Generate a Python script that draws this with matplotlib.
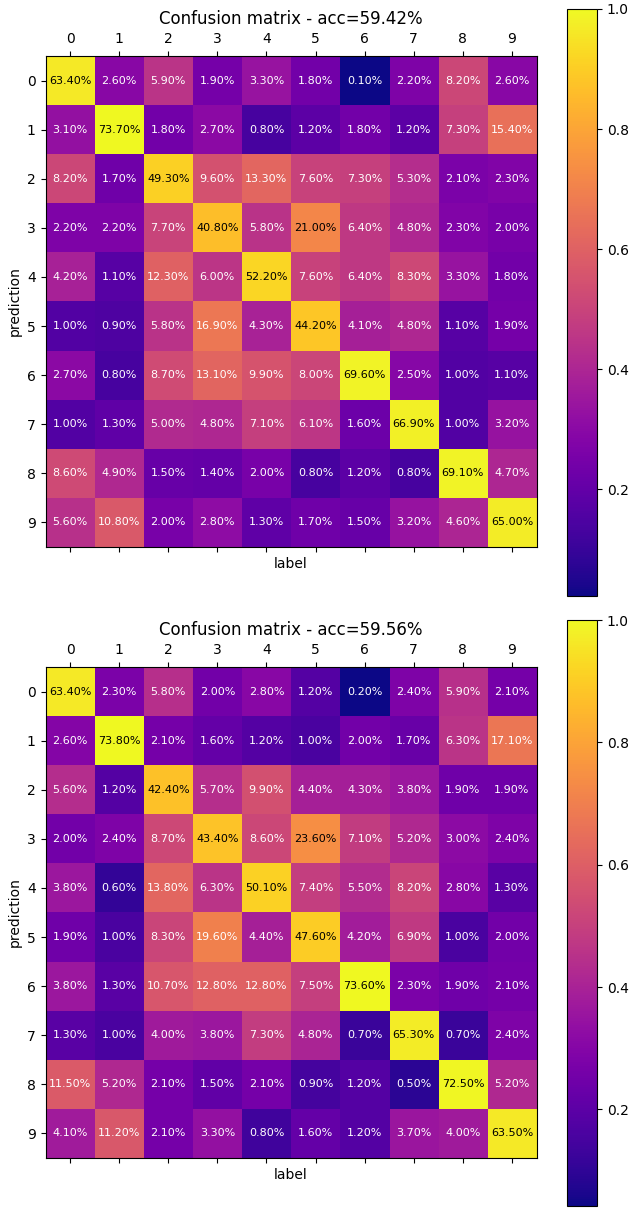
import numpy as np
import matplotlib
matplotlib.use("Agg")
import matplotlib.pyplot as plt

# per-label recall in percent (rows = prediction, columns = label)
classes = list(range(10))

cm_a = [
    [63.40, 2.60, 5.90, 1.90, 3.30, 1.80, 0.10, 2.20, 8.20, 2.60],
    [3.10, 73.70, 1.80, 2.70, 0.80, 1.20, 1.80, 1.20, 7.30, 15.40],
    [8.20, 1.70, 49.30, 9.60, 13.30, 7.60, 7.30, 5.30, 2.10, 2.30],
    [2.20, 2.20, 7.70, 40.80, 5.80, 21.00, 6.40, 4.80, 2.30, 2.00],
    [4.20, 1.10, 12.30, 6.00, 52.20, 7.60, 6.40, 8.30, 3.30, 1.80],
    [1.00, 0.90, 5.80, 16.90, 4.30, 44.20, 4.10, 4.80, 1.10, 1.90],
    [2.70, 0.80, 8.70, 13.10, 9.90, 8.00, 69.60, 2.50, 1.00, 1.10],
    [1.00, 1.30, 5.00, 4.80, 7.10, 6.10, 1.60, 66.90, 1.00, 3.20],
    [8.60, 4.90, 1.50, 1.40, 2.00, 0.80, 1.20, 0.80, 69.10, 4.70],
    [5.60, 10.80, 2.00, 2.80, 1.30, 1.70, 1.50, 3.20, 4.60, 65.00],
]

cm_b = [
    [63.40, 2.30, 5.80, 2.00, 2.80, 1.20, 0.20, 2.40, 5.90, 2.10],
    [2.60, 73.80, 2.10, 1.60, 1.20, 1.00, 2.00, 1.70, 6.30, 17.10],
    [5.60, 1.20, 42.40, 5.70, 9.90, 4.40, 4.30, 3.80, 1.90, 1.90],
    [2.00, 2.40, 8.70, 43.40, 8.60, 23.60, 7.10, 5.20, 3.00, 2.40],
    [3.80, 0.60, 13.80, 6.30, 50.10, 7.40, 5.50, 8.20, 2.80, 1.30],
    [1.90, 1.00, 8.30, 19.60, 4.40, 47.60, 4.20, 6.90, 1.00, 2.00],
    [3.80, 1.30, 10.70, 12.80, 12.80, 7.50, 73.60, 2.30, 1.90, 2.10],
    [1.30, 1.00, 4.00, 3.80, 7.30, 4.80, 0.70, 65.30, 0.70, 2.40],
    [11.50, 5.20, 2.10, 1.50, 2.10, 0.90, 1.20, 0.50, 72.50, 5.20],
    [4.10, 11.20, 2.10, 3.30, 0.80, 1.60, 1.20, 3.70, 4.00, 63.50],
]

W, H = 633, 1208
fig = plt.figure(figsize=(W / 100, H / 100), dpi=100)


def px_box(x0, y0, x1, y1):
    # convert pixel box (top-left origin) to figure fractions
    return [x0 / W, 1 - y1 / H, (x1 - x0) / W, (y1 - y0) / H]


def draw(cm, ax_box, cb_box):
    cm = np.array(cm)
    # colour on a log scale, normalised to the largest cell
    disp = np.log1p(cm)
    disp = disp / disp.max()
    acc = np.trace(cm) / len(cm)

    ax = fig.add_axes(px_box(*ax_box))
    im = ax.matshow(disp, cmap='plasma')
    for i in range(cm.shape[0]):
        for j in range(cm.shape[1]):
            color = 'black' if cm[i, j] > 20 else 'white'
            ax.text(j, i, f'{cm[i, j]:.2f}%', ha='center', va='center',
                    fontsize=8, color=color)
    ax.set_xticks(classes)
    ax.set_yticks(classes)
    ax.set_xlabel('label')
    ax.set_ylabel('prediction')
    ax.set_title(f'Confusion matrix - acc={acc:.2f}%', fontsize=12)

    cax = fig.add_axes(px_box(*cb_box))
    fig.colorbar(im, cax=cax)


draw(cm_a, (45, 56, 537, 547), (567, 9, 597, 596))
draw(cm_b, (45, 667, 537, 1158), (567, 620, 597, 1206))

plt.savefig('out.png', dpi=100)
